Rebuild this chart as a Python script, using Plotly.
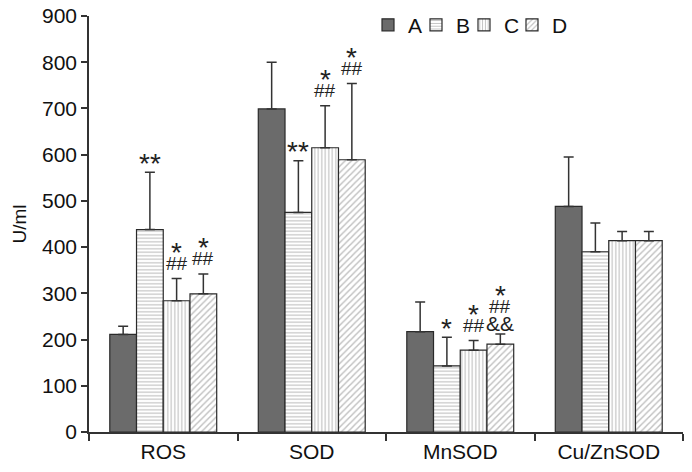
import plotly.graph_objects as go

categories = ["ROS", "SOD", "MnSOD", "Cu/ZnSOD"]
groups = ["A", "B", "C", "D"]
values_A = [211, 699, 217, 488]
values_B = [438, 475, 143, 390]
values_C = [284, 615, 177, 414]
values_D = [299, 589, 190, 414]
err_A = [18, 101, 64, 107]
err_B = [124, 112, 62, 62]
err_C = [48, 91, 21, 20]
err_D = [43, 165, 22, 20]
# significance marks, listed bottom line first
marks_B = [["**"], ["**"], ["*"], []]
marks_C = [["##", "*"], ["##", "*"], ["##", "*"], []]
marks_D = [["##", "*"], ["##", "*"], ["&&", "##", "*"], []]
y_ticks = [0, 100, 200, 300, 400, 500, 600, 700, 800, 900]

values = [values_A, values_B, values_C, values_D]
errors = [err_A, err_B, err_C, err_D]
marks = [None, marks_B, marks_C, marks_D]
patterns = ["", "-", "|", "/"]
pattern_size = [0, 3.5, 3.5, 4.5]
legend_ids = ["legend", "legend2", "legend3", "legend4"]

FONT = "Liberation Sans, Arial, sans-serif"

fig = go.Figure()
for g, v, e, p, ps, lg in zip(groups, values, errors, patterns, pattern_size, legend_ids):
    if p == "":
        marker = dict(color="#6b6b6b", line=dict(color="#2a2a2a", width=1.2))
    else:
        marker = dict(color="white", line=dict(color="#2a2a2a", width=1.2),
                      pattern=dict(shape=p, fgcolor="#808080", bgcolor="white",
                                   size=ps, solidity=0.32))
    fig.add_trace(go.Bar(
        name=g, x=categories, y=v, marker=marker, legend=lg,
        error_y=dict(type="data", array=e, arrayminus=[0] * len(e), symmetric=False,
                     color="#333333", thickness=1.5, width=5),
    ))

barw = (1 - 0.28) / 4
sym_size = {"*": 28, "**": 28, "##": 19, "&&": 21}
first_line = {"*": 14, "**": 14, "##": 15, "&&": 12}
glyph_adj = {"*": -5, "**": -5, "##": 0, "&&": -1}
for j, (v, e, m) in enumerate(zip(values, errors, marks)):
    if m is None:
        continue
    for i in range(len(categories)):
        if not m[i]:
            continue
        base = first_line[m[i][0]]
        for k, s in enumerate(m[i]):
            fig.add_annotation(
                x=i + (j - 1.5) * barw, y=v[i] + e[i], xref="x", yref="y",
                text=s, showarrow=False, yanchor="middle", borderpad=0,
                yshift=base + 16 * k + glyph_adj[s],
                font=dict(family=FONT, size=sym_size[s], color="#222"),
            )

legend_common = dict(orientation="h", y=0.978, xanchor="left", yanchor="middle",
                     font=dict(size=21, family=FONT, color="#111"),
                     itemwidth=30, bgcolor="rgba(0,0,0,0)")
legend_x = [0.4697, 0.5505, 0.6313, 0.7121]

fig.update_layout(
    width=692, height=472,
    margin=dict(l=89, r=9, t=16, b=40, autoexpand=False),
    plot_bgcolor="white", paper_bgcolor="white",
    barmode="group", bargap=0.28, bargroupgap=0,
    font=dict(family=FONT, size=21, color="#111"),
    showlegend=True,
    legend=dict(x=legend_x[0], **legend_common),
    legend2=dict(x=legend_x[1], **legend_common),
    legend3=dict(x=legend_x[2], **legend_common),
    legend4=dict(x=legend_x[3], **legend_common),
    xaxis=dict(type="category", showline=True, linecolor="#333", linewidth=1.5,
               ticks="outside", tickson="boundaries", ticklen=7, tickcolor="#333",
               tickwidth=1.5, showgrid=False, tickfont=dict(size=21)),
    yaxis=dict(range=[0, 900], tickvals=y_ticks, showline=True, linecolor="#333",
               linewidth=1.5, ticks="outside", ticklen=6, tickcolor="#333",
               tickwidth=1.5, showgrid=False, zeroline=False,
               ticklabeloverflow="allow",
               title=dict(text="U/ml", font=dict(size=19), standoff=10),
               tickfont=dict(size=21)),
)

fig.write_html("out.html", config={"displayModeBar": False},
               post_script="document.body.style.margin='0px';")
